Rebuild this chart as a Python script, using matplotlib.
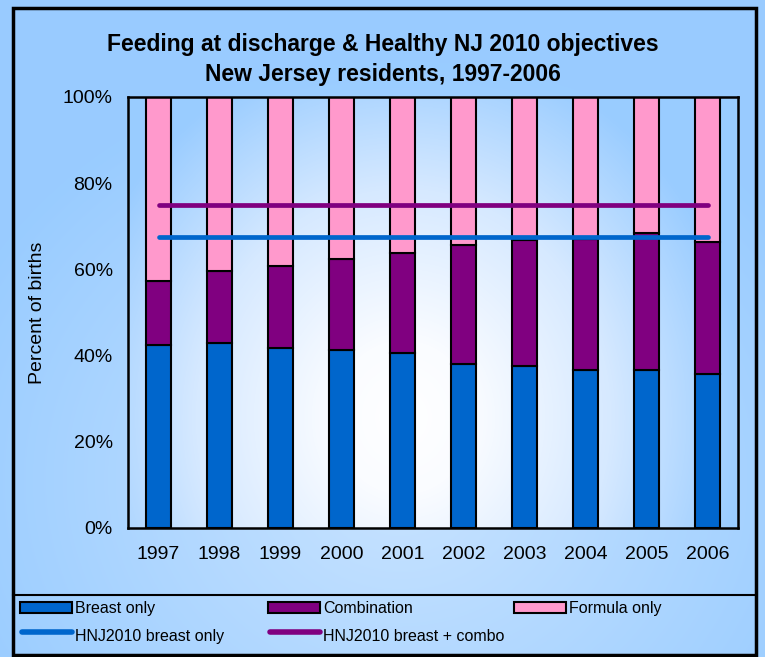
import numpy as np
import matplotlib
matplotlib.use("Agg")
import matplotlib.pyplot as plt
from matplotlib.patches import Rectangle
from matplotlib.lines import Line2D
from matplotlib.colors import LinearSegmentedColormap

plt.rcParams['font.family'] = ['Liberation Sans', 'DejaVu Sans']

# data (percent of births)
years = ['1997', '1998', '1999', '2000', '2001', '2002', '2003', '2004', '2005', '2006']
breast_only = [42.5, 43.0, 41.8, 41.3, 40.6, 38.1, 37.6, 36.7, 36.7, 35.7]
combination = [14.8, 16.6, 19.0, 21.1, 23.2, 27.6, 29.2, 30.3, 31.7, 30.7]
formula_only = [100 - b - c for b, c in zip(breast_only, combination)]
hnj_breast = 67.5
hnj_combo = 75.0

BLUE = '#0066CC'
PURPLE = '#800080'
PINK = '#FF99CC'
BG = '#99CCFF'

W, H = 765, 657
fig = plt.figure(figsize=(W / 100, H / 100), dpi=100)

# figure background gradient
bg = fig.add_axes([0, 0, 1, 1], zorder=-10)
yy, xx = np.mgrid[0:H, 0:W]
d = np.sqrt(((xx - 400) / 480.0) ** 2 + ((yy - 480) / 420.0) ** 2)
cmap_bg = LinearSegmentedColormap.from_list('bg', ['#C8E3FF', BG])
bg.imshow(np.clip(d, 0, 1), cmap=cmap_bg, vmin=0, vmax=1, aspect='auto',
          extent=[0, 1, 0, 1], origin='upper')
bg.set_xlim(0, 1)
bg.set_ylim(0, 1)
bg.axis('off')

# main plot
ax = fig.add_axes([128 / W, 1 - 528 / H, 610 / W, 431 / H])
x = np.arange(len(years))

# plot area gradient
py, px = np.mgrid[0:431, 0:610]
d2 = np.sqrt(((px - 275) / 345.0) ** 2 + ((py - 320) / 380.0) ** 2)
cmap_pa = LinearSegmentedColormap.from_list(
    'pa', [(0, '#FFFFFF'), (0.2, '#FAFCFF'), (0.6, '#D6E9FF'), (1, BG)])
ax.imshow(np.clip(d2, 0, 1), cmap=cmap_pa, vmin=0, vmax=1, aspect='auto',
          extent=[-0.5, len(years) - 0.5, 0, 100], origin='upper', zorder=0)

bw = 0.4
ax.bar(x, breast_only, bw, color=BLUE, edgecolor='black', linewidth=1.5, zorder=2)
ax.bar(x, combination, bw, bottom=breast_only, color=PURPLE, edgecolor='black',
       linewidth=1.5, zorder=2)
bottom3 = [b + c for b, c in zip(breast_only, combination)]
ax.bar(x, formula_only, bw, bottom=bottom3, color=PINK, edgecolor='black',
       linewidth=1.5, zorder=2)

ax.plot([x[0], x[-1]], [hnj_breast, hnj_breast], color=BLUE, lw=3.4,
        solid_capstyle='round', zorder=3)
ax.plot([x[0], x[-1]], [hnj_combo, hnj_combo], color=PURPLE, lw=3.4,
        solid_capstyle='round', zorder=3)

ax.set_xlim(-0.5, len(years) - 0.5)
ax.set_ylim(0, 100)
ax.set_xticks(x)
ax.set_xticklabels(years, fontsize=14)
ax.set_yticks(np.arange(0, 101, 20))
ax.set_yticklabels(['%d%%' % v for v in range(0, 101, 20)], fontsize=14)
ax.tick_params(axis='y', length=0, pad=11)
ax.tick_params(axis='x', length=0, pad=13)
for s in ax.spines.values():
    s.set_linewidth(1.8)
    s.set_zorder(4)
ax.set_ylabel('Percent of births', fontsize=14, labelpad=12)

fig.text(0.5, 1 - 45 / H, 'Feeding at discharge & Healthy NJ 2010 objectives',
         ha='center', va='center', fontsize=16.5, fontweight='bold')
fig.text(0.5, 1 - 74 / H, 'New Jersey residents, 1997-2006',
         ha='center', va='center', fontsize=16.5, fontweight='bold')

# outer border and legend separator
fig.add_artist(Rectangle((13 / W, 1 - 655 / H), 743 / W, 647 / H, transform=fig.transFigure,
                         fill=False, edgecolor='black', linewidth=2.5, zorder=5))
fig.add_artist(Line2D([13 / W, 756 / W], [1 - 595 / H, 1 - 595 / H], transform=fig.transFigure,
                      color='black', linewidth=1.5, zorder=5))

# legend
patch_items = [(BLUE, 'Breast only', 20), (PURPLE, 'Combination', 268), (PINK, 'Formula only', 514)]
for col, label, x0 in patch_items:
    fig.add_artist(Rectangle((x0 / W, 1 - 613 / H), 52 / W, 11 / H, transform=fig.transFigure,
                             facecolor=col, edgecolor='black', linewidth=1.5))
    fig.text((x0 + 55) / W, 1 - 613 / H, label, ha='left', va='baseline', fontsize=11.5)
line_items = [(BLUE, 'HNJ2010 breast only', 20), (PURPLE, 'HNJ2010 breast + combo', 268)]
for col, label, x0 in line_items:
    fig.add_artist(Line2D([(x0 + 2) / W, (x0 + 52) / W], [1 - 632 / H, 1 - 632 / H],
                          transform=fig.transFigure, color=col, linewidth=4,
                          solid_capstyle='round'))
    fig.text((x0 + 55) / W, 1 - 641 / H, label, ha='left', va='baseline', fontsize=11.5)

fig.savefig('out.png', dpi=100)
